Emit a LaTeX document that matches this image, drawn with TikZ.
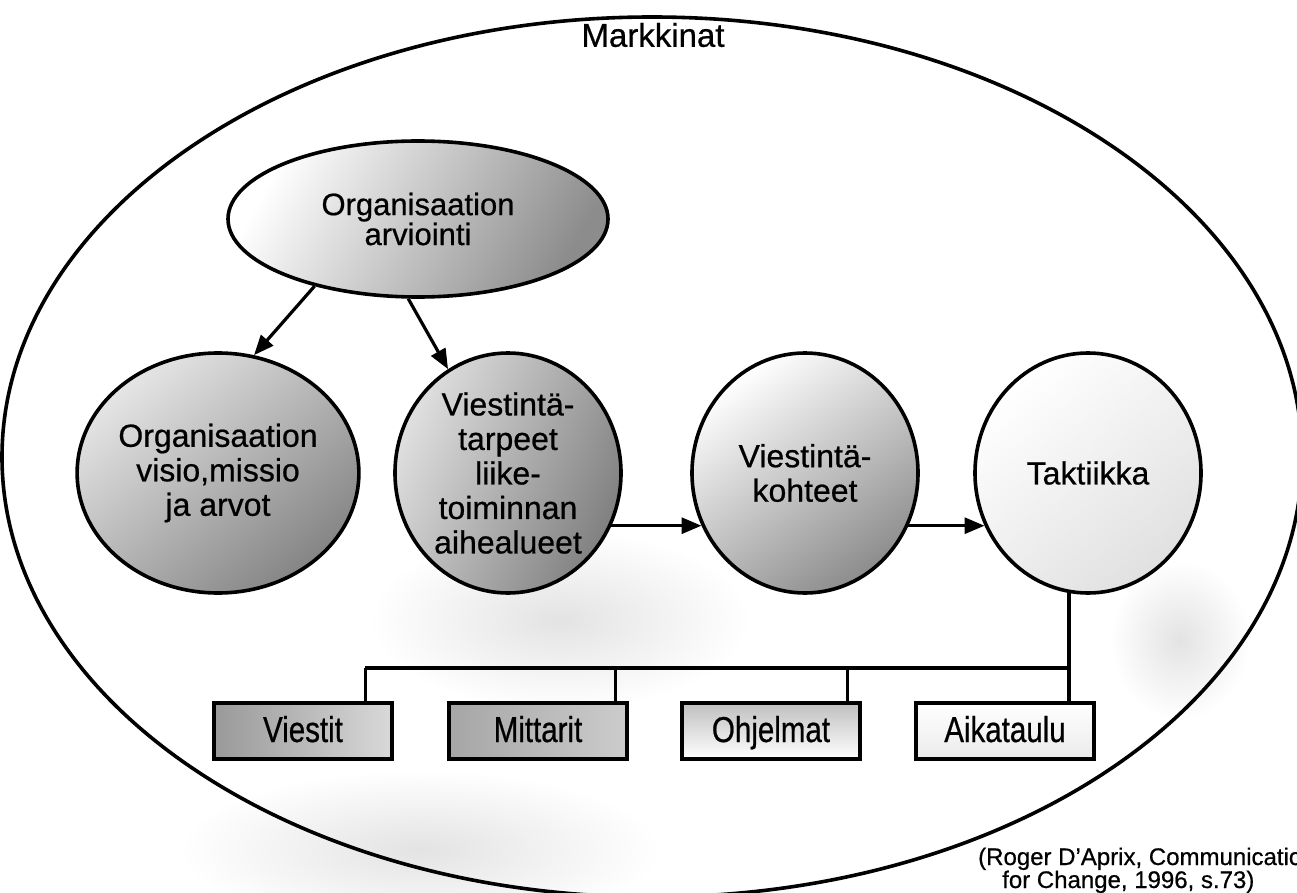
\documentclass[tikz,border=0pt]{standalone}
\usepackage{fontspec}
\setmainfont[FakeBold=0.6]{Liberation Sans}
\newfontfamily\narrowfont[FakeStretch=0.82,FakeBold=0.6]{Liberation Sans}
\usetikzlibrary{shapes.geometric,arrows.meta,calc}
\tikzset{
  blob/.style={ellipse, draw, line width=3.6pt, inner sep=0pt,
    minimum width=226pt, minimum height=240pt, align=center,
    font=\fontsize{32}{34.5}\selectfont},
  tbox/.style={rectangle, draw, line width=4.2pt, inner sep=0pt,
    minimum width=178pt, minimum height=56pt, text height=28pt, text depth=6pt,
    font=\narrowfont\fontsize{36}{40}\selectfont},
  conn/.style={line width=3.2pt, -{Triangle[length=20pt,width=16pt]}},
  tree/.style={line width=3.2pt},
  speck/.style={inner color=black!11, outer color=white}
}
\begin{document}
\begin{tikzpicture}[x=1pt,y=-1pt]
\useasboundingbox (0,0) rectangle (1297,893);
\clip (0,0) rectangle (1297,893);

% faint background stipple areas
\shade[speck] (560,620) ellipse [x radius=190pt, y radius=90pt];
\shade[speck] (420,850) ellipse [x radius=240pt, y radius=80pt];
\shade[speck] (1180,640) ellipse [x radius=70pt, y radius=80pt];

% market ellipse
\node[ellipse, draw, line width=3.6pt, minimum width=1300pt, minimum height=880pt, inner sep=0pt]
  (mk) at (652,457) {};
\node[font=\fontsize{33}{36}\selectfont, inner sep=0pt] (mkl) at (653,35) {Markkinat};

% top ellipse
\node[ellipse, draw, line width=3.6pt, inner sep=0pt, minimum width=380pt, minimum height=156pt,
  align=center, font=\fontsize{31}{28}\selectfont,
  top color=white, bottom color=black!45, shading angle=60] (arv) at (418,219)
  {Organisaation\\arviointi};

% circles
\node[blob, top color=black!10, bottom color=black!48, shading angle=40] (c1) at (218,473)
  {Organisaation\\visio,missio\\ja arvot};
\node[blob, top color=black!12, bottom color=black!50, shading angle=65] (c2) at (508,473)
  {Viestintä-\\tarpeet\\liike-\\toiminnan\\aihealueet};
\node[blob, top color=white, bottom color=black!45, shading angle=35] (c3) at (805,473)
  {Viestintä-\\kohteet};
\node[blob, top color=white, bottom color=black!12, shading angle=40] (c4) at (1088,473)
  {Taktiikka};

% arrows
\draw[conn] (arv.-147) -- (c1.73);
\draw[conn] (arv.-97) -- (c2.120);
\draw[conn] (c2.-27) -- (c3.207);
\draw[conn] (c3.-27) -- (c4.207);

% boxes
\node[tbox, left color=black!40, right color=black!15] (b1) at (303,731) {Viestit};
\node[tbox, left color=black!35, right color=black!20] (b2) at (538,731) {Mittarit};
\node[tbox, top color=black!25, bottom color=white] (b3) at (771,731) {Ohjelmat};
\node[tbox, top color=white, bottom color=black!8] (b4) at (1005,731) {Aikataulu};

% tree connectors
\coordinate (busy) at (0,668);
\coordinate (t0) at (c4.-99);
\coordinate (d1) at ([xshift=-29pt]b1.north east);
\coordinate (d2) at ([xshift=-14pt]b2.north east);
\coordinate (d3) at ([xshift=-15pt]b3.north east);
\draw[tree] (t0) |- (d1 |- busy);
\draw[tree] (t0 |- busy) -- (t0 |- b4.north);
\draw[tree] (d1 |- busy) -- (d1);
\draw[tree] (d2 |- busy) -- (d2);
\draw[tree] (d3 |- busy) -- (d3);

% citation
\node[anchor=base west, inner sep=0pt, font=\fontsize{24}{20}\selectfont] (ref1) at (978,865)
  {(Roger D'Aprix, Communication};
\node[anchor=base west, inner sep=0pt, font=\fontsize{24}{20}\selectfont] (ref2) at (1002,888)
  {for Change, 1996, s.73)};
\end{tikzpicture}
\end{document}
